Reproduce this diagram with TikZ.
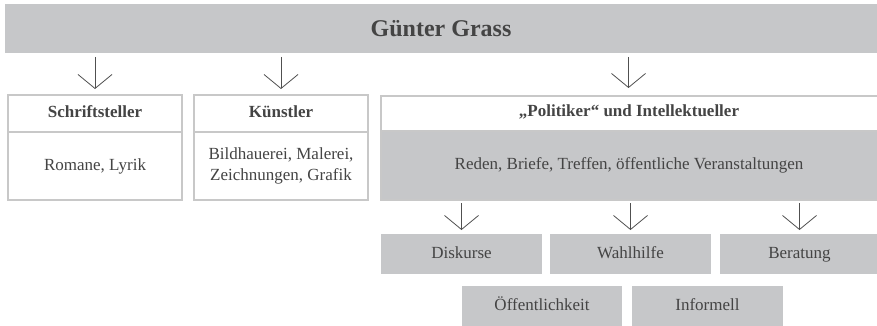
\documentclass[tikz,border=0pt]{standalone}
\usepackage{fontspec}
\setmainfont{Liberation Serif}
\newfontfamily\diagserif{Liberation Serif}
\usetikzlibrary{arrows.meta}
\definecolor{boxgray}{RGB}{198,199,201}
\definecolor{rulegray}{RGB}{200,200,200}
\definecolor{inkgray}{RGB}{68,68,68}
\definecolor{arrowgray}{RGB}{80,80,80}
\tikzset{
  x=1pt, y=-1pt,
  every node/.style={inner sep=0pt, outer sep=0pt, text=inkgray,
    font=\diagserif\fontsize{17}{21}\selectfont, align=center},
  oneline/.style={text height=12pt, text depth=4pt},
  titlebar/.style={fill=boxgray, minimum width=872pt, minimum height=49pt,
    font=\diagserif\fontsize{24}{28}\selectfont\bfseries},
  headbox/.style={draw=rulegray, line width=2pt, fill=white, oneline,
    minimum height=37pt, font=\diagserif\fontsize{17}{21}\selectfont\bfseries},
  bodybox/.style={draw=rulegray, line width=2pt, fill=white, minimum height=68pt},
  graybody/.style={draw=rulegray, line width=2pt, fill=boxgray, minimum height=69pt},
  leafbox/.style={fill=boxgray, minimum height=40pt, oneline},
  downarrow/.style={draw=arrowgray, line width=0.8pt,
    -{Straight Barb[length=14pt, width=34pt, line width=0.8pt]}},
}
\begin{document}
\begin{tikzpicture}
\useasboundingbox (0,0) rectangle (877,326);
\clip (0,0) rectangle (877,326);
\fill[white] (0,0) rectangle (877,326);

% title bar
\node[titlebar] (title) at (441,28.5) {Günter Grass};

% writer
\node[headbox, minimum width=174pt] (sh) at (95,113.5) {Schriftsteller};
\node[bodybox, minimum width=174pt, anchor=north, oneline] (sb) at (sh.south) {Romane, Lyrik};

% artist
\node[headbox, minimum width=174pt] (kh) at (281,113.5) {Künstler};
\node[bodybox, minimum width=174pt, anchor=north] (kb) at (kh.south)
  {Bildhauerei, Malerei,\\Zeichnungen, Grafik};

% politician and intellectual (the box runs past the right edge)
\node[headbox, minimum width=500pt, anchor=north west] (ph) at (381,96) {};
\node[graybody, minimum width=500pt, anchor=north west] (pb) at (381,131) {};
\node[oneline, font=\diagserif\fontsize{17}{21}\selectfont\bfseries] (ptitle) at (629,113)
  {„Politiker“ und Intellektueller};
\node[oneline] (ptext) at (629,165.5) {Reden, Briefe, Treffen, öffentliche Veranstaltungen};
\coordinate (pn) at (628.5,95);

% forms of engagement
\node[leafbox, minimum width=161pt] (dis) at (461.5,254) {Diskurse};
\node[leafbox, minimum width=161pt] (wah) at (630.5,254) {Wahlhilfe};
\node[leafbox, minimum width=160pt] (ber) at (799.5,254) {Beratung};
\node[leafbox, minimum width=160pt] (oef) at (542,306) {Öffentlichkeit};
\node[leafbox, minimum width=151pt] (inf) at (707.5,306) {Informell};

% arrows from the title bar
\draw[downarrow] ([yshift=-4pt]title.south -| sh.north) -- ([yshift=6pt]sh.north);
\draw[downarrow] ([yshift=-4pt]title.south -| kh.north) -- ([yshift=6pt]kh.north);
\draw[downarrow] ([yshift=-4pt]title.south -| pn) -- ([yshift=7pt]pn);

% arrows to the forms of engagement
\draw[downarrow] ([yshift=-3pt]pb.south -| dis.north) -- ([yshift=4pt]dis.north);
\draw[downarrow] ([yshift=-3pt]pb.south -| wah.north) -- ([yshift=4pt]wah.north);
\draw[downarrow] ([yshift=-3pt]pb.south -| ber.north) -- ([yshift=4pt]ber.north);
\end{tikzpicture}
\end{document}
